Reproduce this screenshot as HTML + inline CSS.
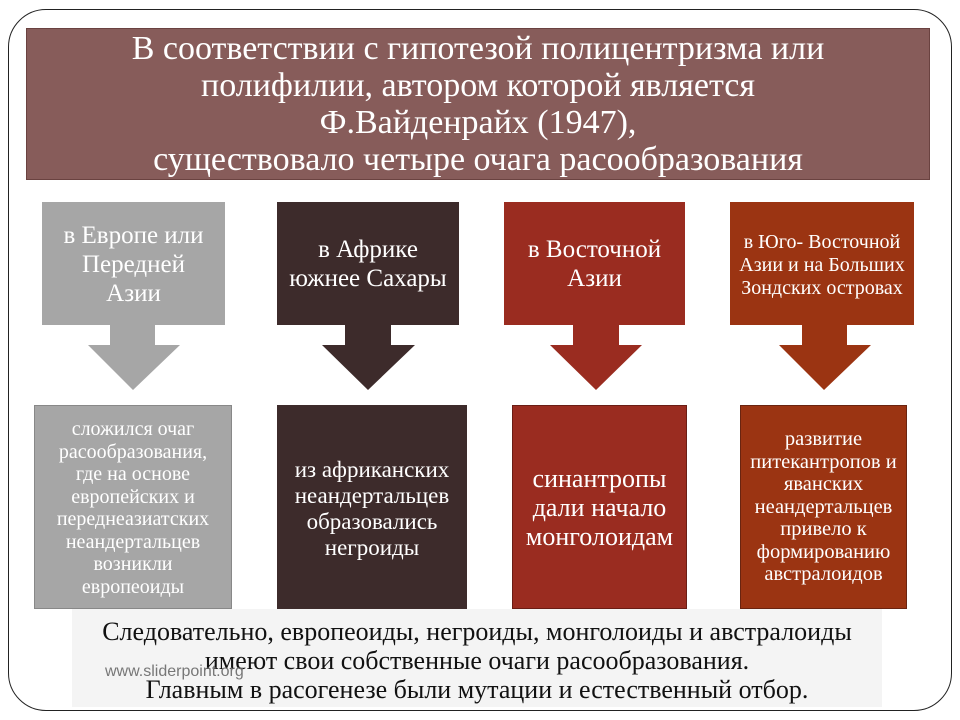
<!DOCTYPE html>
<html><head><meta charset="utf-8"><style>
*{margin:0;padding:0;box-sizing:border-box}
body{width:960px;height:720px;background:#fff;position:relative;overflow:hidden;font-family:"Liberation Serif",serif}
.frame{position:absolute;left:8px;top:9px;width:944px;height:702px;border:1.5px solid #222;border-radius:38px}
.b{position:absolute;display:flex;align-items:center;justify-content:center;text-align:center;color:#fff;white-space:nowrap}
.t{position:absolute;left:26px;top:28px;width:904px;height:152px;background:#875c5a;color:#fff;font-size:34px;line-height:37px;text-align:center;padding-top:1px;border:1px solid #6a4240;white-space:nowrap}
svg{position:absolute;left:0;top:0}
.foot{position:absolute;left:72px;top:609px;width:810px;height:98px;background:#f4f4f4;text-align:center;font-size:26px;line-height:29px;color:#111;padding-top:8px;white-space:nowrap}
.wm{position:absolute;left:105px;top:663px;font-family:"Liberation Sans",sans-serif;font-size:16px;color:#777}
</style></head><body>
<div class="frame"></div>
<div class="t">В соответствии с гипотезой полицентризма или<br>полифилии, автором которой является<br>Ф.Вайденрайх (1947),<br>существовало четыре очага расообразования</div>
<svg width="960" height="720">
<polygon points="110,324 155,324 155,345 180,345 133,390 88,345 110,345" fill="#a6a6a6"/>
<polygon points="345,324 391,324 391,345 415,345 368,390 322,345 345,345" fill="#3d2b2b"/>
<polygon points="573,324 619,324 619,345 642,345 596,390 550,345 573,345" fill="#9a2c20"/>
<polygon points="802,324 847,324 847,345 871,345 824,390 779,345 802,345" fill="#9b3412"/>
</svg>
<div class="b" style="left:42px;top:202px;width:183px;height:123px;background:#a6a6a6;font-size:25px;line-height:29px;align-items:flex-start;padding-top:19px">в Европе или<br>Передней<br>Азии</div>
<div class="b" style="left:277px;top:202px;width:182px;height:123px;background:#3d2b2b;font-size:25px;line-height:29px;align-items:flex-start;padding-top:33px">в Африке<br>южнее Сахары</div>
<div class="b" style="left:504px;top:202px;width:181px;height:123px;background:#9a2c20;font-size:25px;line-height:29px;align-items:flex-start;padding-top:33px">в Восточной<br>Азии</div>
<div class="b" style="left:730px;top:202px;width:184px;height:123px;background:#9b3412;font-size:20px;line-height:23px;align-items:flex-start;padding-top:29px">в Юго- Восточной<br>Азии и на Больших<br>Зондских островах</div>
<div class="b" style="left:34px;top:405px;width:198px;height:204px;background:#a6a6a6;border:1px solid #888;font-size:20px;line-height:22.5px;padding-top:2px">сложился очаг<br>расообразования,<br>где на основе<br>европейских и<br>переднеазиатских<br>неандертальцев<br>возникли<br>европеоиды</div>
<div class="b" style="left:277px;top:405px;width:190px;height:204px;background:#3d2b2b;font-size:23px;line-height:26px;padding-top:3px">из африканских<br>неандертальцев<br>образовались<br>негроиды</div>
<div class="b" style="left:512px;top:405px;width:175px;height:204px;background:#9a2c20;border:1px solid #6a1d15;font-size:26px;line-height:29px;padding-bottom:0px">синантропы<br>дали начало<br>монголоидам</div>
<div class="b" style="left:740px;top:405px;width:167px;height:204px;background:#9b3412;border:1px solid #6a2410;font-size:20.5px;line-height:22.5px">развитие<br>питекантропов и<br>яванских<br>неандертальцев<br>привело к<br>формированию<br>австралоидов</div>
<div class="foot">Следовательно, европеоиды, негроиды, монголоиды и австралоиды<br>имеют свои собственные очаги расообразования.<br>Главным в расогенезе были мутации и естественный отбор.</div>
<div class="wm">www.sliderpoint.org</div>
</body></html>
